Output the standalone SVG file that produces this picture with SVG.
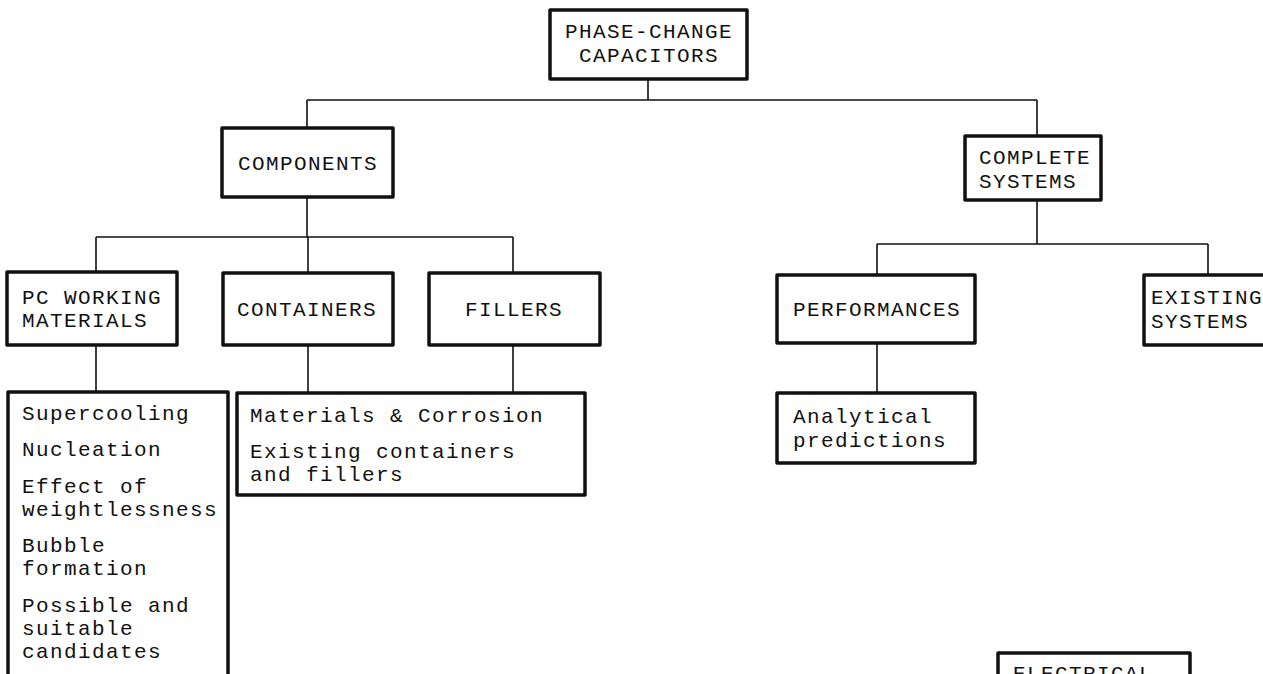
<svg xmlns="http://www.w3.org/2000/svg" width="1263" height="674" viewBox="0 0 1263 674">
  <style>
    .box { fill: #fff; stroke: #111; stroke-width: 3.5; stroke-linejoin: round; }
    .wire { fill: none; stroke: #111; stroke-width: 1.6; }
    text { font-family: "Liberation Mono", "DejaVu Sans Mono", monospace; font-size: 21px; letter-spacing: 1.4px; fill: #111; }
    .c { text-anchor: middle; }
  </style>
  <rect width="1263" height="674" fill="#fff"/>

  <!-- connectors -->
  <g id="connectors">
    <path class="wire" d="M648 79 V100 M307 100 H1037 M307 100 V128 M1037 100 V136"/>
    <path class="wire" d="M307 197 V237 M96 237 H513 M96 237 V272 M308 237 V273 M513 237 V273"/>
    <path class="wire" d="M1037 200 V244 M877 244 H1208 M877 244 V275 M1208 244 V275"/>
    <path class="wire" d="M96 345 V392 M308 345 V393 M513 345 V393 M877 343 V393"/>
  </g>

  <g id="root">
    <rect class="box" x="550" y="10" width="197" height="69"/>
    <text class="c" x="649" y="38">PHASE-CHANGE</text>
    <text class="c" x="649" y="62">CAPACITORS</text>
  </g>

  <g id="components">
    <rect class="box" x="222" y="128" width="171" height="69"/>
    <text class="c" x="308" y="170">COMPONENTS</text>
  </g>

  <g id="complete-systems">
    <rect class="box" x="965" y="136" width="136" height="64"/>
    <text x="979" y="164">COMPLETE</text>
    <text x="979" y="188">SYSTEMS</text>
  </g>

  <g id="pc-working-materials">
    <rect class="box" x="7" y="272" width="170" height="73"/>
    <text x="22" y="304">PC WORKING</text>
    <text x="22" y="327">MATERIALS</text>
  </g>

  <g id="containers">
    <rect class="box" x="223" y="273" width="170" height="72"/>
    <text class="c" x="307" y="316">CONTAINERS</text>
  </g>

  <g id="fillers">
    <rect class="box" x="429" y="273" width="171" height="72"/>
    <text class="c" x="514" y="316">FILLERS</text>
  </g>

  <g id="performances">
    <rect class="box" x="777" y="275" width="198" height="68"/>
    <text class="c" x="877" y="316">PERFORMANCES</text>
  </g>

  <g id="existing-systems">
    <rect class="box" x="1144" y="275" width="130" height="70"/>
    <text x="1151" y="304">EXISTING</text>
    <text x="1151" y="328">SYSTEMS</text>
  </g>

  <g id="pc-topics">
    <rect class="box" x="8" y="392" width="220" height="290"/>
    <text x="22" y="420">Supercooling</text>
    <text x="22" y="456">Nucleation</text>
    <text x="22" y="493">Effect of</text>
    <text x="22" y="516">weightlessness</text>
    <text x="22" y="552">Bubble</text>
    <text x="22" y="575">formation</text>
    <text x="22" y="612">Possible and</text>
    <text x="22" y="635">suitable</text>
    <text x="22" y="658">candidates</text>
  </g>

  <g id="container-topics">
    <rect class="box" x="237" y="393" width="348" height="102"/>
    <text x="250" y="422">Materials &amp; Corrosion</text>
    <text x="250" y="458">Existing containers</text>
    <text x="250" y="481">and fillers</text>
  </g>

  <g id="analytical">
    <rect class="box" x="777" y="393" width="198" height="70"/>
    <text x="793" y="423">Analytical</text>
    <text x="793" y="447">predictions</text>
  </g>

  <g id="electrical">
    <rect class="box" x="998" y="653" width="192" height="40"/>
    <text x="1013" y="680">ELECTRICAL</text>
  </g>
</svg>
